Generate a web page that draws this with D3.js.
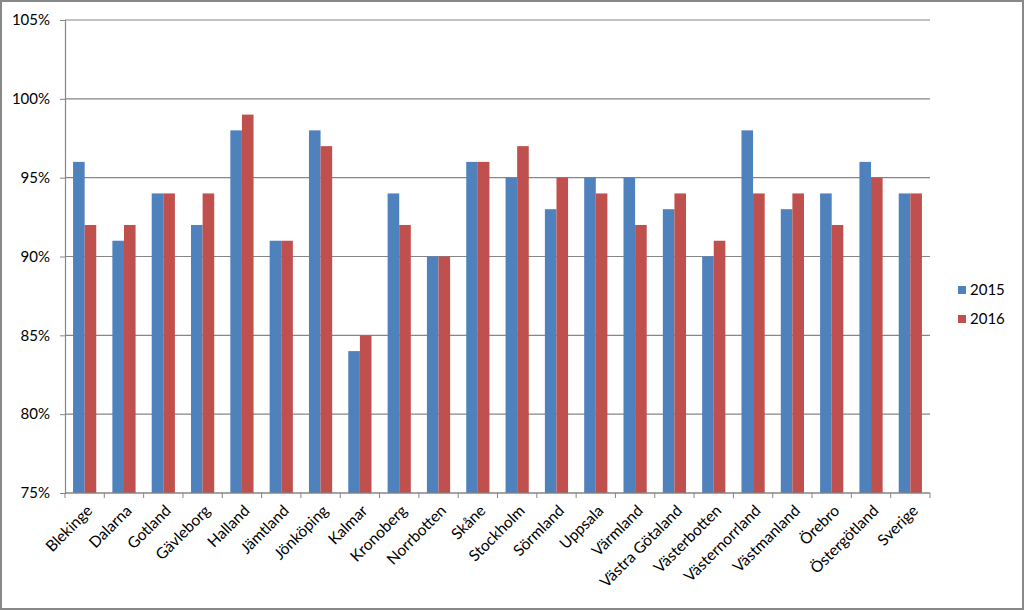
<!DOCTYPE html>
<html><head><meta charset="utf-8">
<script src="https://cdn.jsdelivr.net/npm/d3@7"></script>
<style>body{margin:0;background:#fff}svg{display:block}text{font-family:Lato,"Open Sans",sans-serif;fill:#000}</style>
</head><body><svg id="c" width="1024" height="610"></svg>
<script>
const categories=["Blekinge","Dalarna","Gotland","Gävleborg","Halland","Jämtland","Jönköping","Kalmar","Kronoberg","Norrbotten","Skåne","Stockholm","Sörmland","Uppsala","Värmland","Västra Götaland","Västerbotten","Västernorrland","Västmanland","Örebro","Östergötland","Sverige"];
const seriesNames=["2015","2016"];
const values2015=[96,91,94,92,98,91,98,84,94,90,96,95,93,95,95,93,90,98,93,94,96,94];
const values2016=[92,92,94,94,99,91,97,85,92,90,96,97,95,94,92,94,91,94,94,92,95,94];
const yTicks=[75,80,85,90,95,100,105];
const colors=["#4F81BD","#C0504D"];

const svg=d3.select("#c");
const L=65,R=930,T=20,B=493;
svg.append("rect").attr("x",1).attr("y",1).attr("width",1022).attr("height",608).attr("fill","#fff").attr("stroke","#888").attr("stroke-width",2);
const x=d3.scaleBand().domain(categories).range([L,R]).paddingInner(0.41).paddingOuter(0.205);
const xs=d3.scaleBand().domain(seriesNames).range([0,x.bandwidth()]);
const y=d3.scaleLinear().domain([75,105]).range([B,T]);

svg.append("g").selectAll("line").data(yTicks).join("line")
 .attr("x1",L).attr("x2",R).attr("y1",d=>y(d)).attr("y2",d=>y(d)).attr("stroke","#868686").attr("stroke-width",1.2);

const data=[values2015,values2016];
data.forEach((vals,si)=>{
 svg.append("g").selectAll("rect").data(vals).join("rect")
  .attr("x",(d,i)=>x(categories[i])+xs(seriesNames[si]))
  .attr("width",xs.bandwidth())
  .attr("y",d=>y(d)).attr("height",d=>B-y(d)).attr("fill",colors[si]);
});

const ya=svg.append("g").attr("transform",`translate(${L},0)`).call(d3.axisLeft(y).tickValues(yTicks).tickFormat(d=>d+"%").tickSize(5).tickPadding(10));
ya.select(".domain").attr("stroke","#868686").attr("stroke-width",1.2);
ya.selectAll(".tick line").attr("stroke","#868686");
ya.selectAll("text").style("font-size","15px").style("font-family","Lato,'Open Sans',sans-serif");

const step=(R-L)/categories.length;
const xa=svg.append("g").attr("transform",`translate(0,${B})`);
xa.append("line").attr("x1",L).attr("x2",R).attr("stroke","#868686").attr("stroke-width",1.2);
xa.selectAll("line.t").data(d3.range(categories.length+1)).join("line").attr("class","t")
 .attr("x1",i=>L+i*step).attr("x2",i=>L+i*step).attr("y1",0).attr("y2",5).attr("stroke","#868686");
xa.selectAll("text").data(categories).join("text")
 .attr("transform",d=>`translate(${x(d)+x.bandwidth()/2+1},11) rotate(-45)`)
 .attr("text-anchor","end").attr("dy","0.7em").style("font-size","15.5px").text(d=>d);

const lg=svg.append("g");
seriesNames.forEach((s,i)=>{
 lg.append("rect").attr("x",958).attr("y",286+i*29).attr("width",8).attr("height",8).attr("fill",colors[i]);
 lg.append("text").attr("x",970).attr("y",290+i*29).attr("dy","0.35em").style("font-size","15px").text(s);
});
</script></body></html>
